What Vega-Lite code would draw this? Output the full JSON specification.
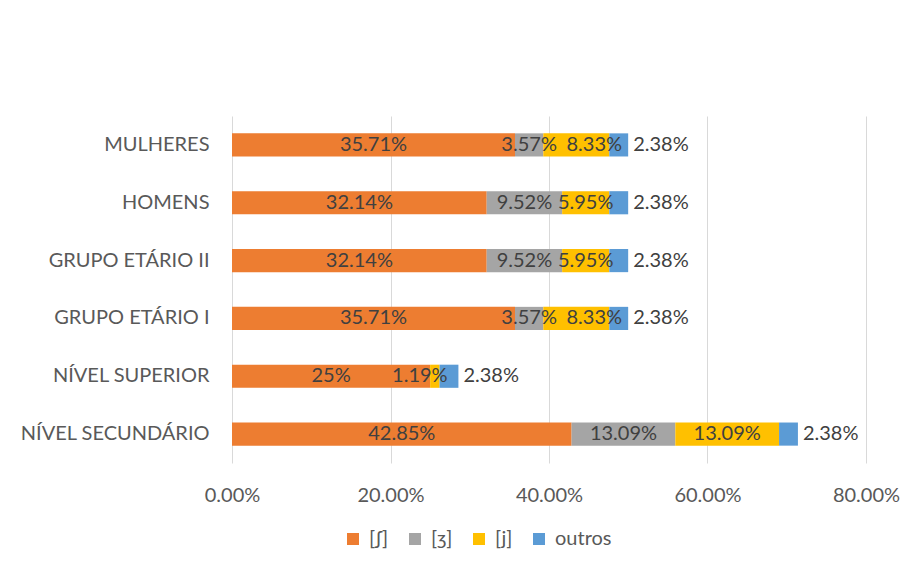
{
  "$schema": "https://vega.github.io/schema/vega-lite/v6.json",
  "width": 634,
  "height": 347,
  "autosize": "none",
  "padding": {"left": 232, "top": 116, "right": 52, "bottom": 107},
  "background": "white",
  "config": {"view": {"stroke": null}, "font": "Lato"},
  "data": {
    "values": [
      {"grupo": "MULHERES", "serie": "[ʃ]", "valor": 0.3571},
      {"grupo": "MULHERES", "serie": "[ʒ]", "valor": 0.0357},
      {"grupo": "MULHERES", "serie": "[j]", "valor": 0.0833},
      {"grupo": "MULHERES", "serie": "outros", "valor": 0.0238},
      {"grupo": "HOMENS", "serie": "[ʃ]", "valor": 0.3214},
      {"grupo": "HOMENS", "serie": "[ʒ]", "valor": 0.0952},
      {"grupo": "HOMENS", "serie": "[j]", "valor": 0.0595},
      {"grupo": "HOMENS", "serie": "outros", "valor": 0.0238},
      {"grupo": "GRUPO ETÁRIO II\u00a0", "serie": "[ʃ]", "valor": 0.3214},
      {"grupo": "GRUPO ETÁRIO II\u00a0", "serie": "[ʒ]", "valor": 0.0952},
      {"grupo": "GRUPO ETÁRIO II\u00a0", "serie": "[j]", "valor": 0.0595},
      {"grupo": "GRUPO ETÁRIO II\u00a0", "serie": "outros", "valor": 0.0238},
      {"grupo": "GRUPO ETÁRIO I", "serie": "[ʃ]", "valor": 0.3571},
      {"grupo": "GRUPO ETÁRIO I", "serie": "[ʒ]", "valor": 0.0357},
      {"grupo": "GRUPO ETÁRIO I", "serie": "[j]", "valor": 0.0833},
      {"grupo": "GRUPO ETÁRIO I", "serie": "outros", "valor": 0.0238},
      {"grupo": "NÍVEL SUPERIOR", "serie": "[ʃ]", "valor": 0.25},
      {"grupo": "NÍVEL SUPERIOR", "serie": "[j]", "valor": 0.0119},
      {"grupo": "NÍVEL SUPERIOR", "serie": "outros", "valor": 0.0238},
      {"grupo": "NÍVEL SECUNDÁRIO", "serie": "[ʃ]", "valor": 0.4285},
      {"grupo": "NÍVEL SECUNDÁRIO", "serie": "[ʒ]", "valor": 0.1309},
      {"grupo": "NÍVEL SECUNDÁRIO", "serie": "[j]", "valor": 0.1309},
      {"grupo": "NÍVEL SECUNDÁRIO", "serie": "outros", "valor": 0.0238}
    ]
  },
  "transform": [
    {"calculate": "indexof(['[ʃ]','[ʒ]','[j]','outros'], datum.serie)", "as": "ordem"},
    {"stack": "valor", "groupby": ["grupo"], "sort": [{"field": "ordem", "order": "ascending"}], "as": ["x0", "x1"]},
    {"calculate": "(datum.x0 + datum.x1) / 2", "as": "xm"}
  ],
  "encoding": {
    "y": {
      "field": "grupo",
      "type": "nominal",
      "sort": ["MULHERES", "HOMENS", "GRUPO ETÁRIO II\u00a0", "GRUPO ETÁRIO I", "NÍVEL SUPERIOR", "NÍVEL SECUNDÁRIO"],
      "scale": {"paddingInner": 0.6, "paddingOuter": 0.3},
      "axis": {"title": null, "domain": false, "ticks": false, "labelPadding": 23, "labelFontSize": 20, "labelColor": "#595959", "labelLimit": 300}
    }
  },
  "layer": [
    {
      "mark": {"type": "bar"},
      "encoding": {
        "x": {
          "field": "x0",
          "type": "quantitative",
          "scale": {"domain": [0, 0.8], "nice": false},
          "axis": {"title": null, "format": ".2%", "values": [0, 0.2, 0.4, 0.6, 0.8], "grid": true, "gridColor": "#D9D9D9", "domain": false, "ticks": false, "labelFontSize": 20, "labelColor": "#595959", "labelPadding": 22, "labelFlush": false}
        },
        "x2": {"field": "x1"},
        "color": {
          "field": "serie",
          "type": "nominal",
          "scale": {"domain": ["[ʃ]", "[ʒ]", "[j]", "outros"], "range": ["#ED7D31", "#A5A5A5", "#FFC000", "#5B9BD5"]},
          "legend": {"title": null, "orient": "none", "legendX": 111, "legendY": 413, "direction": "horizontal", "symbolType": "square", "symbolSize": 144, "symbolStrokeWidth": 0, "labelFontSize": 20, "labelColor": "#595959", "columnPadding": 16, "labelOffset": 6}
        }
      }
    },
    {
      "transform": [{"filter": "datum.serie != 'outros'"}],
      "mark": {"type": "text", "fontSize": 20, "color": "#404040", "dx": {"expr": "datum.serie == '[j]' && datum.valor > 0.08 && datum.valor < 0.1 ? 18 : (datum.valor < 0.02 ? -15 : 0)"}},
      "encoding": {
        "x": {"field": "xm", "type": "quantitative"},
        "text": {"field": "valor", "type": "quantitative", "format": ".2~%"}
      }
    },
    {
      "transform": [{"filter": "datum.serie == 'outros'"}],
      "mark": {"type": "text", "fontSize": 20, "color": "#404040", "align": "left", "dx": 5},
      "encoding": {
        "x": {"field": "x1", "type": "quantitative"},
        "text": {"field": "valor", "type": "quantitative", "format": ".2~%"}
      }
    }
  ]
}
